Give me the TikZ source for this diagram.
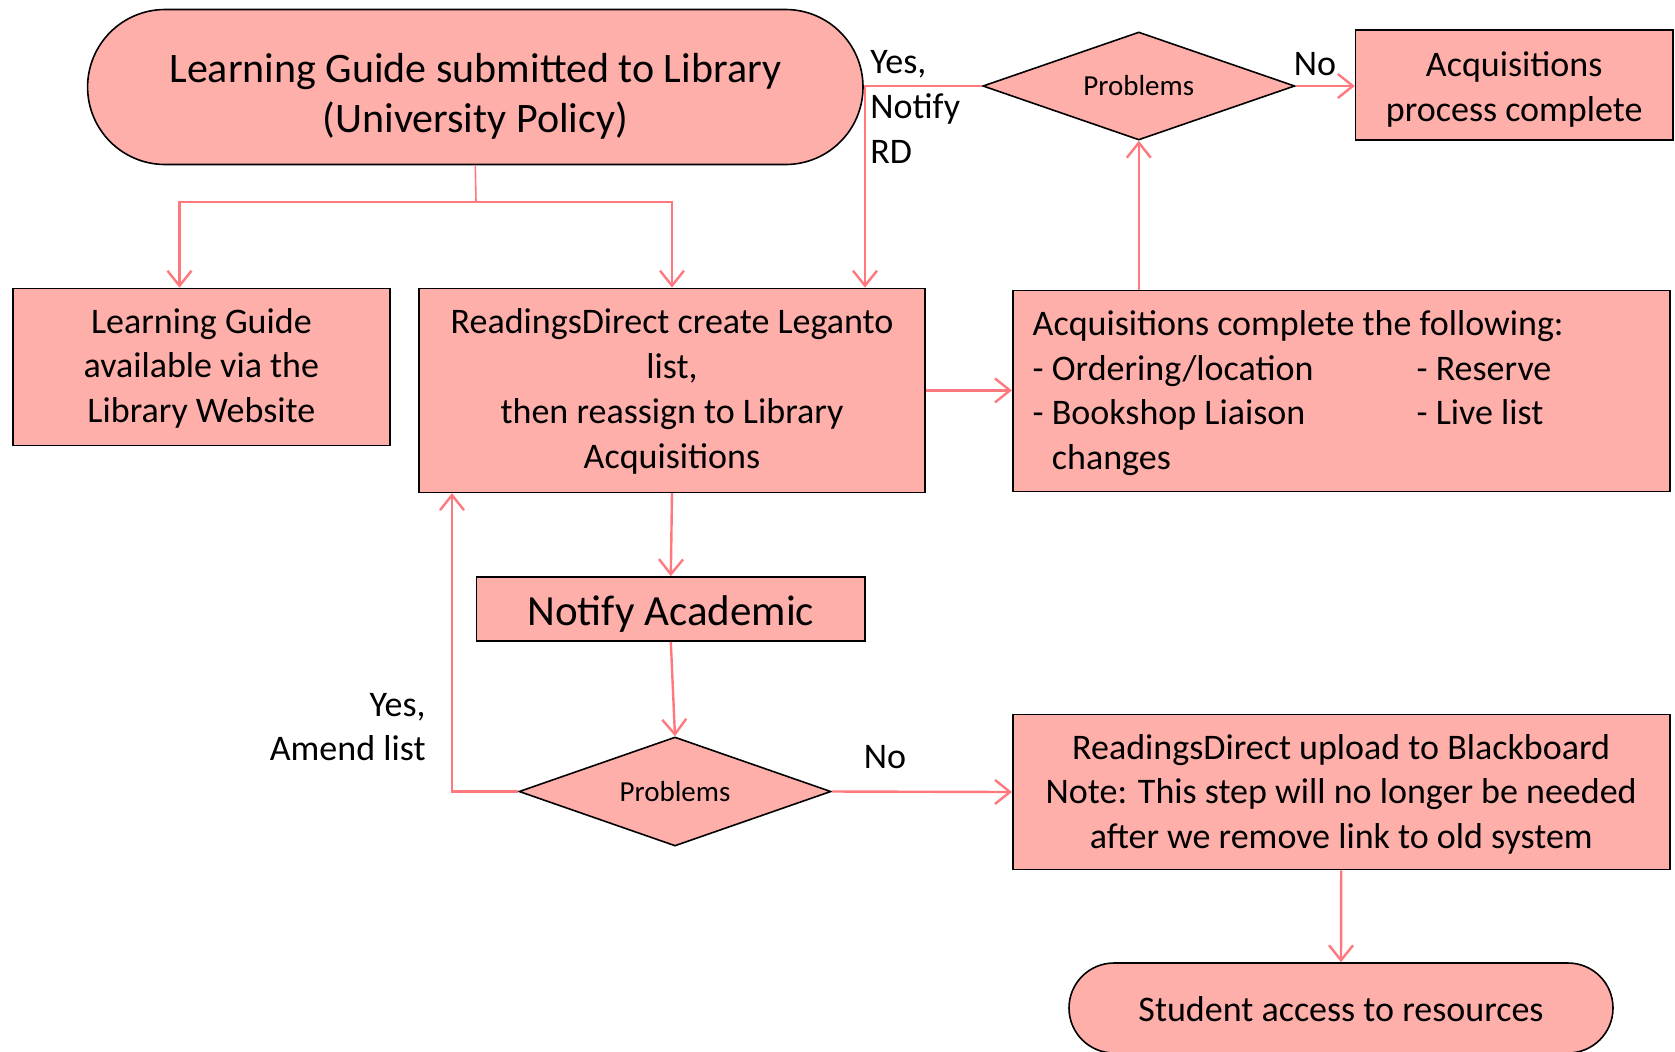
\documentclass[tikz,border=0pt]{standalone}
\usepackage{fontspec}
\setmainfont{Carlito}
\usetikzlibrary{shapes.geometric,arrows.meta}
\definecolor{boxfill}{RGB}{255,175,170}
\definecolor{linec}{RGB}{255,120,125}
\newcommand\shdn[2]{\raisebox{-#1}[\height][\depth]{\begin{tabular}{@{}c@{}}#2\end{tabular}}}
\newcommand\shdnl[2]{\raisebox{-#1}[\height][\depth]{\begin{tabular}{@{}p{308.5pt}@{}}#2\end{tabular}}}
\tikzset{
  box/.style={draw=black, line width=0.8pt, fill=boxfill, rectangle, inner sep=0pt, align=center,
    font=\fontsize{18}{22.4}\selectfont},
  decision/.style={draw=black, line width=0.8pt, fill=boxfill, diamond, inner sep=0pt, aspect=2.9,
    minimum width=156pt, minimum height=54pt, font=\fontsize{14.5}{17}\selectfont},
  conn/.style={draw=linec, line width=1.2pt, -{Straight Barb[length=7.5pt,width=12pt,line width=1.2pt]}},
  plain/.style={draw=linec, line width=0.8pt},
  lbl/.style={font=\fontsize{18}{22.4}\selectfont, inner sep=0pt},
}
\begin{document}
\begin{tikzpicture}[x=0.5pt,y=-0.5pt]
\useasboundingbox (0,0) rectangle (1675,1051);
% nodes
\node[box, minimum width=387.7pt, minimum height=77.5pt, rounded corners=38.75pt,
  font=\fontsize{21}{25}\selectfont] (start) at (475.3,87) {\shdn{5pt}{Learning Guide submitted to Library\\(University Policy)}};
\node[box, minimum width=188.6pt, minimum height=78.5pt] (lg) at (201.4,367) {\shdn{1pt}{Learning Guide\\available via the\\Library Website}};
\node[box, minimum width=253.2pt, minimum height=102pt] (rd) at (672,390.4) {\shdn{0.8pt}{ReadingsDirect create Leganto\\list,\\then reassign to Library\\Acquisitions}};
\node[box, minimum width=328.5pt, minimum height=100.5pt] (acq) at (1341.2,391)
  {\shdnl{1.3pt}{Acquisitions complete the following:\\
   \makebox[192pt][l]{- Ordering/location}- Reserve\\
   \makebox[192pt][l]{- Bookshop Liaison}- Live list\\
   \hspace*{9.6pt}changes}};
\node[box, minimum width=158.6pt, minimum height=55pt] (done) at (1514.2,85) {\shdn{2.5pt}{Acquisitions\\process complete}};
\node[decision] (p1) at (1138.8,86) {Problems};
\node[box, minimum width=194.4pt, minimum height=32pt, font=\fontsize{21.5}{25}\selectfont] (notify) at (670.8,609) {\shdn{3.2pt}{Notify Academic}};
\node[decision, minimum height=54.5pt] (p2) at (675,791.5) {Problems};
\node[box, minimum width=328.5pt, minimum height=77.5pt] (upload) at (1341.2,792) {\shdn{1.5pt}{ReadingsDirect upload to Blackboard\\Note: This step will no longer be needed\\after we remove link to old system}};
\node[box, minimum width=272pt, minimum height=45pt, rounded corners=22.5pt] (student) at (1341,1008) {\shdn{2.5pt}{Student access to resources}};
% helper coordinates
\coordinate (split) at (476,202);
\coordinate (lgx) at (179.5,0);
\coordinate (yesx) at (865,0);
\coordinate (amx) at (452,0);
% connectors
\draw[plain] (start.south) -- (split);
\draw[conn] (split) -| (lgx |- lg.north);
\draw[conn] (split) -| (rd.north);
\draw[conn] (p1.west) -| (yesx |- rd.north);
\draw[conn] (rd.east) -- (rd.east -| acq.west);
\draw[conn] (acq.north -| p1.south) -- (p1.south);
\draw[conn] (p1.east) -- (p1.east -| done.west);
\draw[conn] (rd.south) -- (notify.north);
\draw[conn] (notify.south) -- (p2.north);
\draw[conn] (p2.west) -| (amx |- rd.south);
\draw[conn] (p2.east) -- (upload.west);
\draw[conn] (upload.south) -- (student.north);
% labels
\node[lbl, anchor=west, align=left] (l1) at (870,107) {Yes,\\Notify\\RD};
\node[lbl] (l2) at (1315,64) {No};
\node[lbl, anchor=east, align=right] (l3) at (426,727) {Yes,\\Amend list};
\node[lbl] (l4) at (885,757) {No};
\end{tikzpicture}
\end{document}
